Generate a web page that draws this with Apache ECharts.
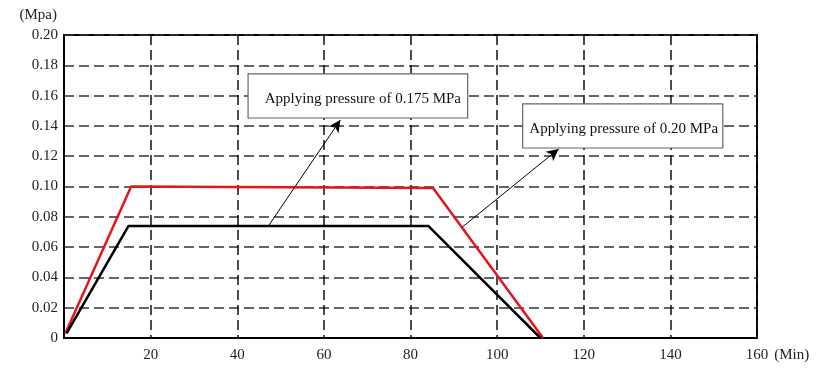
<!DOCTYPE html>
<html>
<head>
<meta charset="utf-8">
<script src="https://cdn.jsdelivr.net/npm/echarts@6/dist/echarts.min.js"></script>
<style>html,body{margin:0;padding:0;background:#fff}#c{width:818px;height:372px}</style>
</head>
<body>
<div id="c"></div>
<script>
// Data
var redSeries = [[0.3, 0.003], [15.5, 0.100], [85.2, 0.099], [110.6, 0]];   // 0.20 MPa
var blackSeries = [[0.6, 0.003], [14.9, 0.074], [84.1, 0.074], [110.0, 0]]; // 0.175 MPa
var xTicks = [0, 20, 40, 60, 80, 100, 120, 140, 160];
var yTicks = [0, 0.02, 0.04, 0.06, 0.08, 0.10, 0.12, 0.14, 0.16, 0.18, 0.20];
var annotationTexts = ['Applying pressure of 0.175 MPa', 'Applying pressure of 0.20 MPa'];
var arrowFrom = [[47.2, 0.074], [92.0, 0.0733]];
var arrowTo = [[63.8, 0.1439], [114.2, 0.1248]];
var boxFrom = [[42.5, 0.1452], [105.9, 0.1254]];
var boxTo = [[93.2, 0.1743], [152.1, 0.1545]];

var serif = '"Liberation Serif", "DejaVu Serif", serif';
var chart = echarts.init(document.getElementById('c'));
chart.setOption({
  animation: false,
  grid: { left: 64, top: 35, right: 61, bottom: 34, show: true, borderColor: '#000', borderWidth: 2, backgroundColor: 'transparent' },
  xAxis: {
    type: 'value', min: 0, max: 160, interval: 20,
    name: '(Min)', nameLocation: 'end', nameGap: 14,
    nameTextStyle: { fontFamily: serif, fontSize: 15, color: '#222', verticalAlign: 'top', padding: [10, 0, 0, 0] },
    axisLine: { show: true, lineStyle: { color: '#000', width: 2 } },
    axisTick: { show: false },
    axisLabel: { fontFamily: serif, fontSize: 15, color: '#222', margin: 10,
      formatter: function (v) { return v === 0 ? '' : String(v); } },
    splitLine: { show: true, lineStyle: { color: '#111', width: 1.5, type: [10, 5] } }
  },
  yAxis: {
    type: 'value', min: 0, max: 0.2, interval: 0.02,
    name: '(Mpa)', nameLocation: 'end', nameGap: 20,
    nameTextStyle: { fontFamily: serif, fontSize: 15, color: '#222', align: 'right', verticalAlign: 'middle', padding: [0, 7, 0, 0] },
    axisLine: { show: true, lineStyle: { color: '#000', width: 2 } },
    axisTick: { show: false },
    axisLabel: { fontFamily: serif, fontSize: 15, color: '#222', margin: 6,
      formatter: function (v) { return v === 0 ? '0' : v.toFixed(2); } },
    splitLine: { show: true, lineStyle: { color: '#333', width: 1.5, type: [10, 5] } }
  },
  series: [
    {
      type: 'line', data: redSeries, symbol: 'none', silent: true,
      lineStyle: { color: '#e8141c', width: 2.5 }, z: 3
    },
    {
      type: 'line', data: blackSeries, symbol: 'none', silent: true,
      lineStyle: { color: '#000', width: 2.5 }, z: 3,
      markLine: {
        silent: true, symbol: ['none', 'arrow'], symbolSize: [9, 12],
        label: { show: false },
        lineStyle: { color: '#000', width: 1, type: 'solid' },
        data: arrowFrom.map(function (p, i) { return [{ coord: p }, { coord: arrowTo[i] }]; })
      },
      markArea: {
        silent: true,
        itemStyle: { color: '#fff', borderColor: '#666', borderWidth: 1.2, opacity: 1 },
        label: { show: true, position: 'inside', color: '#111', fontFamily: serif, fontSize: 15 },
        data: [
          [{ name: annotationTexts[0], coord: boxFrom[0], label: { offset: [5, 3] } }, { coord: boxTo[0] }],
          [{ name: annotationTexts[1], coord: boxFrom[1], label: { offset: [1, 3] } }, { coord: boxTo[1] }]
        ]
      }
    }
  ]
});
</script>
</body>
</html>
